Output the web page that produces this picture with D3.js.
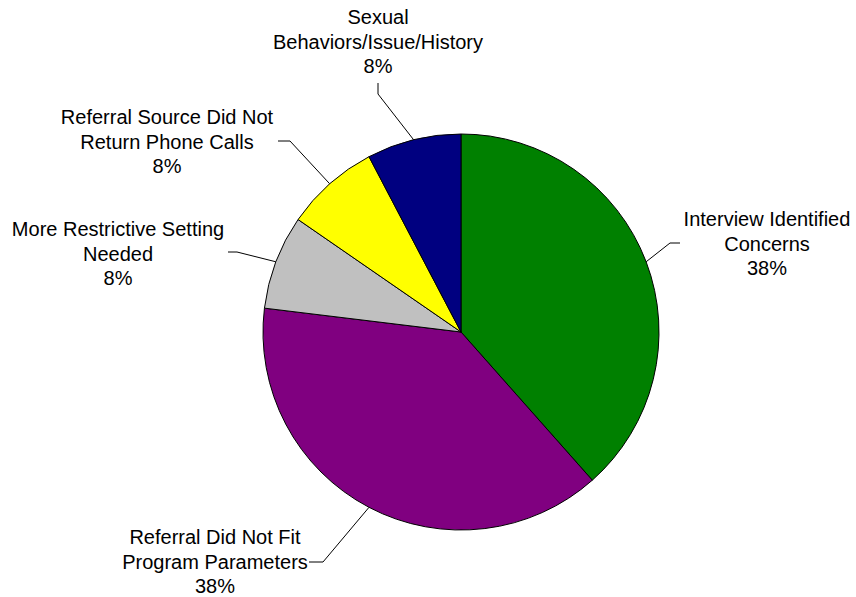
<!DOCTYPE html>
<html>
<head>
<meta charset="utf-8">
<script src="https://cdn.jsdelivr.net/npm/d3@7"></script>
<style>
  html, body { margin: 0; padding: 0; background: #fff; }
  svg text { font-family: "Liberation Sans", Arial, sans-serif; font-size: 20px; fill: #000; }
</style>
</head>
<body>
<svg id="chart" width="856" height="597"></svg>
<script>
// Reasons referrals were not accepted (counts)
const categories = [
  "Interview Identified Concerns",
  "Referral Did Not Fit Program Parameters",
  "More Restrictive Setting Needed",
  "Referral Source Did Not Return Phone Calls",
  "Sexual Behaviors/Issue/History"
];
const counts = [5, 5, 1, 1, 1];
const labelLines = [
  ["Interview Identified", "Concerns"],
  ["Referral Did Not Fit", "Program Parameters"],
  ["More Restrictive Setting", "Needed"],
  ["Referral Source Did Not", "Return Phone Calls"],
  ["Sexual", "Behaviors/Issue/History"]
];
const colors = ["#008000", "#800080", "#c0c0c0", "#ffff00", "#000080"];

const svg = d3.select("#chart");
const cx = 461, cy = 332, R = 198;
const g = svg.append("g").attr("transform", `translate(${cx},${cy})`);

const total = d3.sum(counts);
const pie = d3.pie().value(d => d).sort(null);
const arcs = pie(counts);
const arc = d3.arc().innerRadius(0).outerRadius(R);

g.selectAll("path.slice")
  .data(arcs)
  .join("path")
  .attr("class", "slice")
  .attr("d", arc)
  .attr("fill", (d, i) => colors[i])
  .attr("stroke", "#000")
  .attr("stroke-width", 1);

// Label placement: text block centre, elbow and end of each leader line (page coords)
const layout = [
  { tx: 767, ty: 219, elbow: [670, 243], end: [680, 243] },
  { tx: 215, ty: 537, elbow: [323, 562], end: [309, 562] },
  { tx: 118, ty: 229, elbow: [237, 252], end: [228, 252] },
  { tx: 167, ty: 117, elbow: [290, 141], end: [278, 141] },
  { tx: 378, ty: 17,  elbow: [378, 94],  end: [378, 83] }
];

const fmt = v => Math.round(v / total * 100) + "%";
const lh = 24.5;

arcs.forEach((d, i) => {
  const mid = (d.startAngle + d.endAngle) / 2;
  const ax = cx + R * Math.sin(mid), ay = cy - R * Math.cos(mid);
  const L = layout[i];
  svg.append("polyline")
    .attr("points", [[ax, ay], L.elbow, L.end].map(p => p.join(",")).join(" "))
    .attr("fill", "none")
    .attr("stroke", "#000")
    .attr("stroke-width", 1);

  const lines = labelLines[i].concat([fmt(d.data)]);
  const t = svg.append("text").attr("text-anchor", "middle");
  lines.forEach((s, k) => {
    t.append("tspan")
      .attr("x", L.tx)
      .attr("y", L.ty + k * lh)
      .attr("dy", "0.35em")
      .text(s);
  });
});
</script>
</body>
</html>
